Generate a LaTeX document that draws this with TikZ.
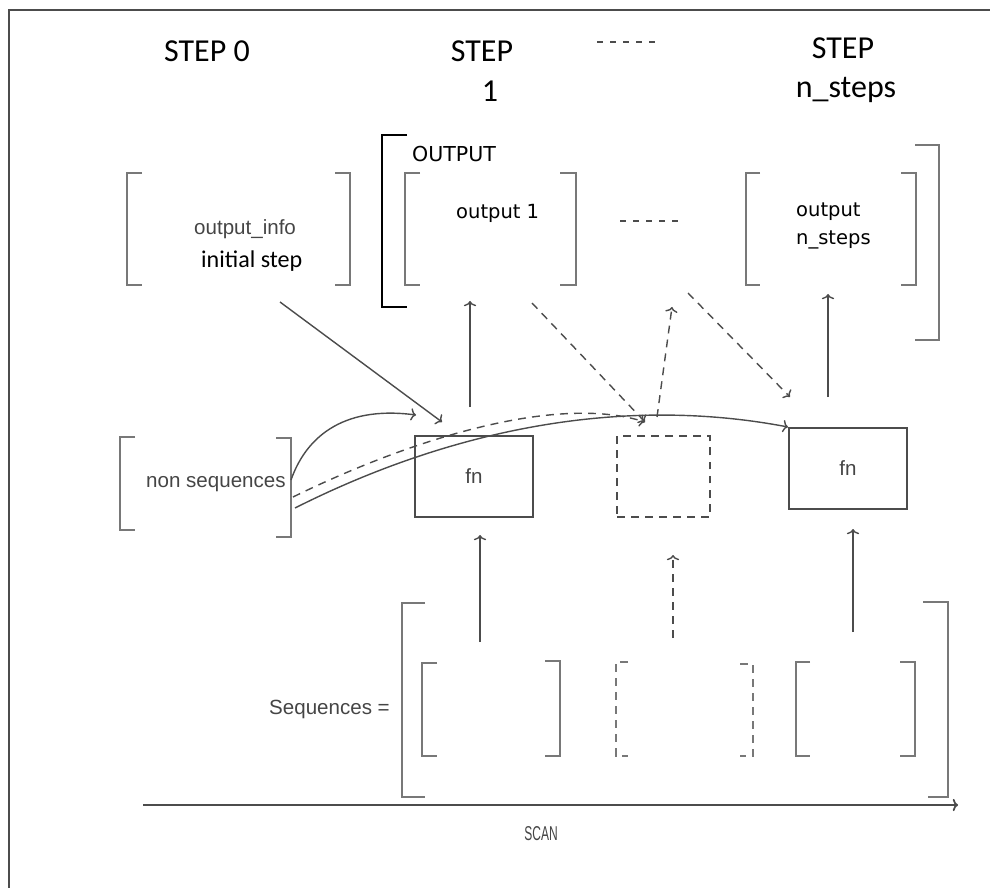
\documentclass[tikz,border=0pt]{standalone}
\usepackage{fontspec}
\setmainfont{Carlito}
\newfontfamily\arialfont{Liberation Sans}
\newfontfamily\tahfont{DejaVu Sans}
\usetikzlibrary{arrows.meta}
\definecolor{brkgray}{gray}{0.47}
\definecolor{txtgray}{gray}{0.27}
\definecolor{arrgray}{gray}{0.3}
\tikzset{
  brk/.style={draw=brkgray, line width=1.2pt},
  conn/.style={draw=arrgray, line width=0.8pt, -{To[length=3pt,width=7pt]}},
  dconn/.style={conn, dash pattern=on 4.5pt off 3.5pt},
  dotline/.style={draw=arrgray, line width=0.8pt, dash pattern=on 3.4pt off 4pt},
  fnbox/.style={draw=arrgray, line width=0.9pt, minimum width=2.36cm, minimum height=1.62cm,
    inner sep=0pt, text=txtgray, font=\arialfont\fontsize{11.7}{14}\selectfont},
  steptxt/.style={anchor=base, font=\fontsize{18.2}{22}\selectfont},
  graytxt/.style={anchor=base west, text=txtgray, font=\arialfont\fontsize{11.7}{14}\selectfont},
  outtxt/.style={anchor=base west, font=\tahfont\fontsize{11.1}{13}\selectfont},
}
\begin{document}
\begin{tikzpicture}[x=0.02cm, y=-0.02cm]
\useasboundingbox (0,0) rectangle (990,888);
\draw[arrgray, line width=1pt] (9,888) |- (990,10);
% headings
\node[steptxt] (step0) at (207,62) {STEP 0};
\node[steptxt] (step1) at (482,62) {STEP};
\node[steptxt] (step1num) at (490,102) {1};
\node[steptxt] (stepn) at (843,59) {STEP};
\node[steptxt] (stepnname) at (846,98) {n\_steps};
\draw[dotline] (597,42) -- (658,42);
%
% initial step
\draw[brk] (142,173) -| (127,285) -- (142,285);
\draw[brk] (335,173) -| (350,285) -- (335,285);
\node[graytxt] (info) at (188,235) {output\_info};
\node[anchor=base west, font=\fontsize{13.7}{16}\selectfont] (initstep) at (195,268) {initial step};
%
% outputs
\draw[line width=1.2pt] (407,135) -| (382,307) -- (407,307);
\draw[brk] (915,145) -| (939,340) -- (915,340);
\node[outtxt, font=\tahfont\fontsize{11.7}{14}\selectfont] (outlbl) at (406,162) {OUTPUT};
\draw[brk] (420,173) -| (405,285) -- (420,285);
\draw[brk] (560,173) -| (576,285) -- (560,285);
\node[outtxt] (out1) at (450,219) {output 1};
\draw[dotline] (620,221) -- (682,221);
\draw[brk] (760,173) -| (746,285) -- (760,285);
\draw[brk] (901,173) -| (916,285) -- (901,285);
\node[outtxt] (outn) at (790,217) {output};
\node[outtxt] (outnname) at (790,245) {n\_steps};
%
% fn boxes
\node[fnbox] (fnA) at (474,476.5) {fn};
\node[fnbox, minimum width=1.86cm, dash pattern=on 4.5pt off 3.5pt] (fnMid) at (663.5,476.5) {};
\node[fnbox] (fnB) at (848,468.5) {fn};
%
% non sequences
\draw[brk] (135,437) -| (120,530) -- (135,530);
\draw[brk] (276,438) -| (291,537) -- (276,537);
\node[graytxt] (nonseq) at (140,487) {non sequences};
%
% sequences
\draw[brk] (425,603) -| (402,797) -- (425,797);
\draw[brk] (923,602) -| (948,797) -- (928,797);
\draw[brk] (437,663) -| (422,756) -- (437,756);
\draw[brk] (545,661) -| (560,756) -- (545,756);
\draw[brk, dash pattern=on 4.5pt off 3.5pt] (628,662) -| (616,756) -- (628,756);
\draw[brk, dash pattern=on 4.5pt off 3.5pt] (740,664) -| (753,756) -- (740,756);
\draw[brk] (810,662) -| (796,756) -- (810,756);
\draw[brk] (900,662) -| (915,756) -- (900,756);
\node[graytxt] (seqlbl) at (263,714) {Sequences =};
%
% connector ends
\coordinate (infoOut) at (280,302);
\coordinate (fnAin) at (442,422);
\coordinate (fnAout) at (470,407);
\coordinate (out1in) at (470,301);
\coordinate (nsA) at (291,480);
\coordinate (fnAin2) at (416,415);
\coordinate (nsB) at (293,497);
\coordinate (midIn) at (645,422);
\coordinate (nsC) at (295,508);
\coordinate (fnBin2) at (788,427);
\coordinate (out1Out) at (532,303);
\coordinate (midOut) at (657,417);
\coordinate (midUp) at (672,307);
\coordinate (dotsOut) at (688,293);
\coordinate (fnBin) at (790,397);
\coordinate (fnBout) at (828,397);
\coordinate (outNin) at (828,294);
\coordinate (seqA) at (480,642);
\coordinate (fnAbot) at (480,535);
\coordinate (seqMid) at (673,638);
\coordinate (midBot) at (673,555);
\coordinate (seqB) at (853,632);
\coordinate (fnBbot) at (853,529);
\coordinate (scanStart) at (143,805);
\coordinate (scanEnd) at (958,805);
%
\draw[conn] (infoOut) -- (fnAin);
\draw[conn] (fnAout) -- (out1in);
\draw[conn] (nsA) .. controls (305,440) and (340,405) .. (fnAin2);
\draw[dconn] (nsB) .. controls (420,435) and (560,395) .. (midIn);
\draw[conn] (nsC) .. controls (450,430) and (620,395) .. (fnBin2);
\draw[dconn] (out1Out) -- (midIn);
\draw[dconn] (midOut) -- (midUp);
\draw[dconn] (dotsOut) -- (fnBin);
\draw[conn] (fnBout) -- (outNin);
\draw[conn] (seqA) -- (fnAbot);
\draw[dconn] (seqMid) -- (midBot);
\draw[conn] (seqB) -- (fnBbot);
\draw[conn, line width=1pt] (scanStart) -- (scanEnd);
\node[anchor=base, xscale=0.6, text=txtgray, font=\arialfont\fontsize{11.4}{14}\selectfont] (scan) at (541,840) {SCAN};
\end{tikzpicture}
\end{document}
